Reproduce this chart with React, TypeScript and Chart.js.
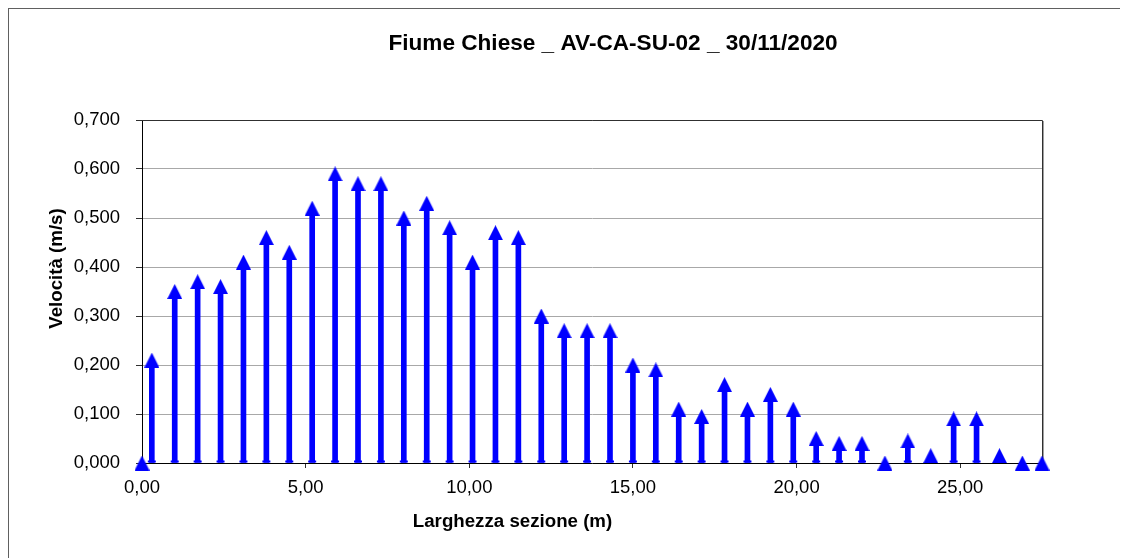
import React, { useEffect, useRef } from 'react';
import { Chart, registerables } from 'chart.js';

Chart.register(...registerables);

const TITLE = 'Fiume Chiese _ AV-CA-SU-02 _ 30/11/2020';
const X_TITLE = 'Larghezza sezione (m)';
const Y_TITLE = 'Velocità (m/s)';

const distances = [
  0, 0.3, 1.0, 1.7, 2.4, 3.1, 3.8, 4.5, 5.2, 5.9, 6.6, 7.3, 8.0, 8.7, 9.4, 10.1,
  10.8, 11.5, 12.2, 12.9, 13.6, 14.3, 15.0, 15.7, 16.4, 17.1, 17.8, 18.5, 19.2,
  19.9, 20.6, 21.3, 22.0, 22.7, 23.4, 24.1, 24.8, 25.5, 26.2, 26.9, 27.5,
];
const velocities = [
  0, 0.21, 0.35, 0.37, 0.36, 0.41, 0.46, 0.43, 0.52, 0.59, 0.57, 0.57, 0.5, 0.53,
  0.48, 0.41, 0.47, 0.46, 0.3, 0.27, 0.27, 0.27, 0.2, 0.19, 0.11, 0.095, 0.16,
  0.11, 0.14, 0.11, 0.05, 0.04, 0.04, 0, 0.045, 0.015, 0.09, 0.09, 0.015, 0, 0,
];

const X_MIN = 0;
const X_MAX = 27.5;
const X_STEP = 5;
const Y_MIN = 0;
const Y_MAX = 0.7;
const Y_STEP = 0.1;

const FAMILY = "'Liberation Sans', Arial, sans-serif";
const BLUE = '#0000ff';

function makeTriangle(): HTMLCanvasElement {
  const c = document.createElement('canvas');
  c.width = 15;
  c.height = 15;
  const g = c.getContext('2d')!;
  g.fillStyle = BLUE;
  g.beginPath();
  g.moveTo(0, 15);
  g.lineTo(15, 15);
  g.lineTo(7.5, 0);
  g.closePath();
  g.fill();
  return c;
}

const framePlugin = {
  id: 'plotFrame',
  beforeDatasetsDraw(chart: any) {
    const { ctx, chartArea } = chart;
    const { left, top, right, bottom } = chartArea;
    ctx.save();
    ctx.strokeStyle = '#a0a0a0';
    ctx.lineWidth = 1;
    ctx.beginPath();
    ctx.moveTo(Math.round(right) + 1.5, Math.round(top) + 1);
    ctx.lineTo(Math.round(right) + 1.5, bottom);
    ctx.stroke();
    ctx.strokeStyle = '#303030';
    ctx.beginPath();
    ctx.moveTo(left, Math.round(top) + 0.5);
    ctx.lineTo(Math.round(right) + 0.5, Math.round(top) + 0.5);
    ctx.lineTo(Math.round(right) + 0.5, bottom);
    ctx.stroke();
    ctx.restore();
  },
};

const capsPlugin = {
  id: 'stemCaps',
  afterDatasetsDraw(chart: any) {
    const { ctx } = chart;
    const meta = chart.getDatasetMeta(1);
    ctx.save();
    ctx.fillStyle = BLUE;
    meta.data.forEach((bar: any, i: number) => {
      if (velocities[i] > 0) {
        ctx.fillRect(bar.x - 4, bar.base - 2, 8, 2);
      }
    });
    ctx.restore();
  },
};

const titlesPlugin = {
  id: 'titles',
  afterDraw(chart: any) {
    const { ctx } = chart;
    ctx.save();
    ctx.fillStyle = '#000';
    ctx.textAlign = 'center';
    ctx.textBaseline = 'alphabetic';
    ctx.font = `bold 22.6px ${FAMILY}`;
    ctx.fillText(TITLE, 604, 40.5);
    ctx.font = `bold 18.7px ${FAMILY}`;
    ctx.fillText(X_TITLE, 503.5, 517.5);
    ctx.translate(53, 259.5);
    ctx.rotate(-Math.PI / 2);
    ctx.fillText(Y_TITLE, 0, 0);
    ctx.restore();
  },
};

export default function App() {
  const ref = useRef<HTMLCanvasElement>(null);

  useEffect(() => {
    const tri = makeTriangle();
    const points = distances.map((x, i) => ({ x, y: velocities[i] }));
    const tickFont = { family: FAMILY, size: 18.5 };
    const chart = new Chart(ref.current!, {
      type: 'bar',
      data: {
        datasets: [
          {
            type: 'line',
            data: points,
            showLine: false,
            pointStyle: tri,
            pointRadius: 8,
            pointHoverRadius: 8,
            backgroundColor: BLUE,
            borderColor: BLUE,
            clip: false,
            order: 0,
          } as any,
          {
            type: 'bar',
            data: points,
            backgroundColor: BLUE,
            borderWidth: 0,
            barThickness: 5,
            order: 1,
          } as any,
        ],
      },
      options: {
        responsive: false,
        animation: false,
        events: [],
        layout: { padding: { top: 111, right: 86, left: 0, bottom: 0 } },
        plugins: {
          legend: { display: false },
          title: { display: false },
          tooltip: { enabled: false },
        },
        scales: {
          x: {
            type: 'linear',
            min: X_MIN,
            max: X_MAX,
            offset: false,
            grid: {
              display: true,
              drawOnChartArea: false,
              offset: false,
              tickLength: 5,
              tickColor: '#303030',
              tickWidth: 1,
            },
            border: { display: true, color: '#000', width: 1 },
            ticks: {
              stepSize: X_STEP,
              includeBounds: false,
              autoSkip: false,
              maxRotation: 0,
              padding: 9,
              color: '#000',
              font: tickFont,
              callback: (v: any) => Number(v).toFixed(2).replace('.', ','),
            },
            afterFit: (s: any) => {
              s.height = 95;
            },
          },
          y: {
            type: 'linear',
            min: Y_MIN,
            max: Y_MAX,
            grid: {
              color: '#a8a8a8',
              lineWidth: 1,
              tickLength: 6,
              tickColor: '#303030',
              tickWidth: 1,
            },
            border: { display: true, color: '#000', width: 1 },
            ticks: {
              stepSize: Y_STEP,
              padding: 16,
              color: '#000',
              font: tickFont,
              callback: (v: any) => Number(v).toFixed(3).replace('.', ','),
            },
            afterFit: (s: any) => {
              s.width = 133;
            },
          },
        },
      } as any,
      plugins: [framePlugin, capsPlugin, titlesPlugin],
    });
    return () => chart.destroy();
  }, []);

  return (
    <div
      style={{
        width: 1119,
        height: 549,
        borderTop: '1px solid #606060',
        borderLeft: '1px solid #606060',
        background: '#fff',
      }}
    >
      <canvas ref={ref} width={1119} height={549} style={{ display: 'block' }} />
    </div>
  );
}
